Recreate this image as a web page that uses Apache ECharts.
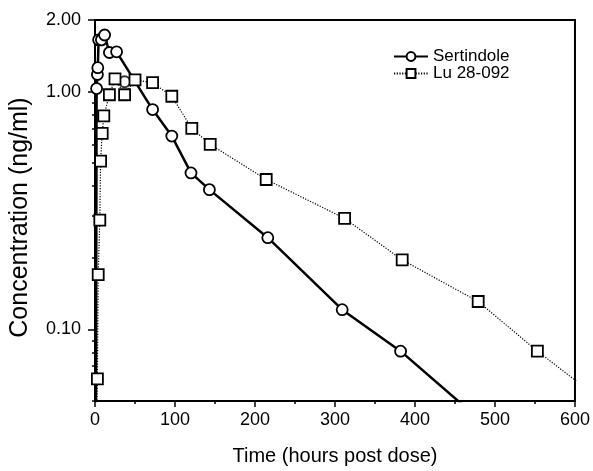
<!DOCTYPE html>
<html lang="en">
<head>
    <meta charset="UTF-8">
    <title>Sertindole</title>
    <script src="https://cdn.jsdelivr.net/npm/echarts@6/dist/echarts.min.js"></script>
</head>
<body style="margin: 0; background: #fff;">
    <div id="main" style="width: 593px; height: 471px;"></div>
    <script>
        // [time (h), concentration (ng/ml)]
        const sertindole = [
            [1, 0.02], [2, 1.03], [3, 1.18], [3.5, 1.26], [4.5, 1.65], [8, 1.65], [12, 1.73],
            [18, 1.46], [27, 1.47], [72, 0.84], [96, 0.65], [120, 0.455], [143, 0.387],
            [216, 0.243], [309, 0.121], [382, 0.081], [480, 0.042]
        ]
        // one circle that sits off the drawn line
        const sertindoleExtra = [[37, 1.1]]
        const lu28092 = [
            [1, 0.03], [3, 0.062], [4, 0.17], [6, 0.288], [7, 0.51], [9, 0.667], [11, 0.79],
            [18, 0.97], [25, 1.13], [37, 0.97], [50, 1.12], [72, 1.09], [96, 0.956],
            [121, 0.70], [144, 0.60], [214, 0.427], [312, 0.293], [384, 0.196],
            [479, 0.131], [553, 0.081], [648, 0.046]
        ]
        const yLabels = [0.1, 1, 2]
        const yMinorTicks = [0.05, 0.06, 0.07, 0.08, 0.09, 0.2, 0.3, 0.4, 0.5, 0.6, 0.7, 0.8, 0.9]

        const font = "'Liberation Sans', Arial, sans-serif"
        let chart = echarts.init(document.getElementById("main"))

        let circle = {
            symbol: 'circle',
            symbolSize: 11,
            itemStyle: { color: '#fff', borderColor: '#000', borderWidth: 1.8 }
        }
        let logAxis = {
            type: 'log',
            logBase: 10,
            min: 0.05, max: 2,
            splitLine: { show: false },
            minorTick: { show: false }
        }

        let option = {
            animation: false,
            textStyle: { fontFamily: font, color: '#000' },
            grid: {
                left: 95, right: 16, top: 20, bottom: 68,
                show: true, borderColor: '#000', borderWidth: 2, backgroundColor: 'transparent'
            },
            legend: {
                data: ['Sertindole', 'Lu 28-092'],
                orient: 'vertical',
                left: 388,
                top: 43,
                itemWidth: 34,
                itemHeight: 11,
                itemGap: 0,
                textStyle: { fontSize: 17, color: '#000', fontFamily: font }
            },
            xAxis: {
                type: 'value',
                min: 0, max: 600, interval: 100,
                axisLine: { lineStyle: { color: '#000', width: 2 } },
                axisTick: { length: 6, lineStyle: { color: '#000', width: 1.5 } },
                minorTick: { show: true, splitNumber: 2, length: 3, lineStyle: { color: '#000', width: 1.5 } },
                splitLine: { show: false },
                axisLabel: { fontSize: 18, color: '#000', margin: 10, fontFamily: font },
                name: 'Time (hours post dose)',
                nameLocation: 'middle',
                nameGap: 45,
                nameTextStyle: { fontSize: 20, color: '#000', fontFamily: font }
            },
            yAxis: [
                Object.assign({}, logAxis, {
                    axisLine: { lineStyle: { color: '#000', width: 2 } },
                    axisTick: { customValues: yLabels, length: 7, lineStyle: { color: '#000', width: 1.5 } },
                    axisLabel: {
                        customValues: yLabels,
                        formatter: v => Number(v).toFixed(2),
                        fontSize: 18, color: '#000', margin: 14, fontFamily: font
                    },
                    name: 'Concentration (ng/ml)',
                    nameLocation: 'middle',
                    nameGap: 62,
                    nameTextStyle: { fontSize: 25, color: '#000', fontFamily: font, padding: [0, 14, 0, 0] }
                }),
                // minor ticks only
                Object.assign({}, logAxis, {
                    position: 'left',
                    axisLine: { show: false },
                    axisTick: { customValues: yMinorTicks, length: 3, lineStyle: { color: '#000', width: 1.5 } },
                    axisLabel: { show: false }
                })
            ],
            series: [
                Object.assign({
                    name: 'Sertindole',
                    type: 'line',
                    data: sertindole,
                    lineStyle: { color: '#000', width: 2.5 },
                    z: 3
                }, circle),
                Object.assign({
                    name: 'extra',
                    type: 'scatter',
                    data: sertindoleExtra,
                    z: 3
                }, circle),
                {
                    name: 'Lu 28-092',
                    type: 'line',
                    data: lu28092,
                    symbol: 'rect',
                    symbolSize: 11,
                    lineStyle: { color: '#000', width: 1.2, type: [1.2, 1.5] },
                    itemStyle: { color: '#fff', borderColor: '#000', borderWidth: 1.8 },
                    z: 4
                }
            ]
        }
        chart.setOption(option)
    </script>
</body>
</html>
